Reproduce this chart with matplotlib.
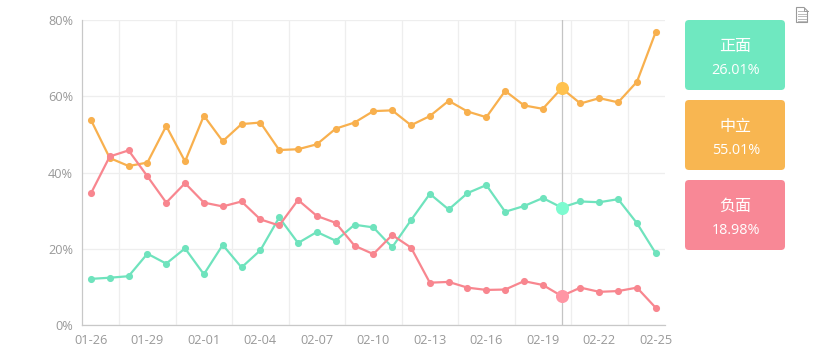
import numpy as np
from matplotlib import pyplot as plt
from matplotlib.patches import FancyBboxPatch, Polygon

plt.rcParams['font.family'] = ['Open Sans', 'Noto Sans CJK SC', 'DejaVu Sans']

dates = ['01-26', '01-27', '01-28', '01-29', '01-30', '01-31', '02-01', '02-02',
         '02-03', '02-04', '02-05', '02-06', '02-07', '02-08', '02-09', '02-10',
         '02-11', '02-12', '02-13', '02-14', '02-15', '02-16', '02-17', '02-18',
         '02-19', '02-20', '02-21', '02-22', '02-23', '02-24', '02-25']

positive = [12.1, 12.4, 12.8, 18.7, 16.1, 20.1, 13.3, 21.0, 15.1, 19.6, 28.2,
            21.5, 24.4, 22.1, 26.3, 25.6, 20.4, 27.5, 34.4, 30.3, 34.6, 36.7,
            29.7, 31.2, 33.3, 30.8, 32.4, 32.2, 33.0, 26.7, 18.8]
neutral = [53.8, 43.8, 41.7, 42.6, 52.2, 42.9, 54.9, 48.2, 52.7, 53.1, 45.9,
           46.1, 47.4, 51.5, 53.1, 56.1, 56.3, 52.4, 54.8, 58.8, 56.0, 54.5,
           61.4, 57.6, 56.7, 62.1, 58.1, 59.5, 58.4, 63.8, 76.9]
negative = [34.5, 44.2, 45.8, 39.0, 32.1, 37.2, 32.1, 31.1, 32.4, 27.7, 26.1,
            32.8, 28.6, 26.8, 20.8, 18.6, 23.6, 20.3, 11.1, 11.3, 9.8, 9.2,
            9.3, 11.5, 10.5, 7.6, 9.8, 8.7, 8.9, 9.8, 4.5]

card_names = ['正面', '中立', '负面']
card_values = ['26.01%', '55.01%', '18.98%']
card_colors = ['#6fe8c0', '#f8b651', '#f88896']
line_colors = ['#6fe3bd', '#f8b04e', '#f8868f']
hover_colors = ['#7dfbd0', '#ffc24f', '#ff96a4']
hover_index = 25

fig = plt.figure(figsize=(8.15, 3.55), dpi=100)
ax = fig.add_axes([81.5 / 815, 30 / 355, 583.7 / 815, 305 / 355])

x = np.arange(len(dates))
for series, color, hover in zip([positive, neutral, negative], line_colors, hover_colors):
    ax.plot(x, series, color=color, lw=1.6, marker='o', ms=4.1, zorder=3)
    ax.plot(x[hover_index], series[hover_index], 'o', color=hover, ms=8.4, zorder=4)

ax.axvline(hover_index, color='#c4c4c4', lw=0.9, zorder=2)

ax.set_xlim(-0.5, len(dates) - 0.5)
ax.set_ylim(0, 80)
ax.set_xticks(x[::3])
ax.set_xticklabels(dates[::3])
ax.set_xticks(x[::3][:-1] + 1.5, minor=True)
ax.set_yticks([0, 20, 40, 60, 80])
ax.set_yticklabels(['0%', '20%', '40%', '60%', '80%'])
ax.tick_params(axis='both', which='both', length=0, labelsize=9.2, labelcolor='#999999')
ax.tick_params(axis='x', pad=6.6)
ax.tick_params(axis='y', pad=6)
ax.grid(True, axis='y', color='#eeeeee', lw=0.9)
ax.grid(True, axis='x', which='minor', color='#eeeeee', lw=0.9)
ax.set_axisbelow(True)
for side in ['top', 'right']:
    ax.spines[side].set_visible(False)
for side in ['left', 'bottom']:
    ax.spines[side].set_color('#c8c8c8')
    ax.spines[side].set_linewidth(0.9)

# overlay in pixel coordinates for the cards and the save icon
overlay = fig.add_axes([0, 0, 1, 1], facecolor='none')
overlay.set_xlim(0, 815)
overlay.set_ylim(355, 0)
overlay.axis('off')

for i, (name, value, color) in enumerate(zip(card_names, card_values, card_colors)):
    top = 20 + i * 80
    overlay.add_patch(FancyBboxPatch((688, top + 3), 94, 64, boxstyle='round,pad=3,rounding_size=4',
                                     fc=color, ec='none'))
    overlay.text(735, top + 26, name, color='white', fontsize=11.5, ha='center', va='center',
                 family=['Noto Sans CJK SC', 'DejaVu Sans'], weight='medium')
    overlay.text(736, top + 50, value, color='white', fontsize=10.4, ha='center', va='center',
                 weight='medium')

overlay.add_patch(Polygon([(796.5, 7.5), (804, 7.5), (807.5, 11), (807.5, 22.5), (796.5, 22.5)],
                          closed=True, fc='white', ec='#9a9a9a', lw=0.8))
overlay.plot([804, 804, 807.5], [7.5, 11, 11], color='#9a9a9a', lw=0.7)
for yy in [11, 13.5, 16, 18.5, 20.5]:
    overlay.plot([798, 806 if yy > 11 else 803], [yy, yy], color='#bbbbbb', lw=0.7)

fig.savefig('out.png', dpi=100)
